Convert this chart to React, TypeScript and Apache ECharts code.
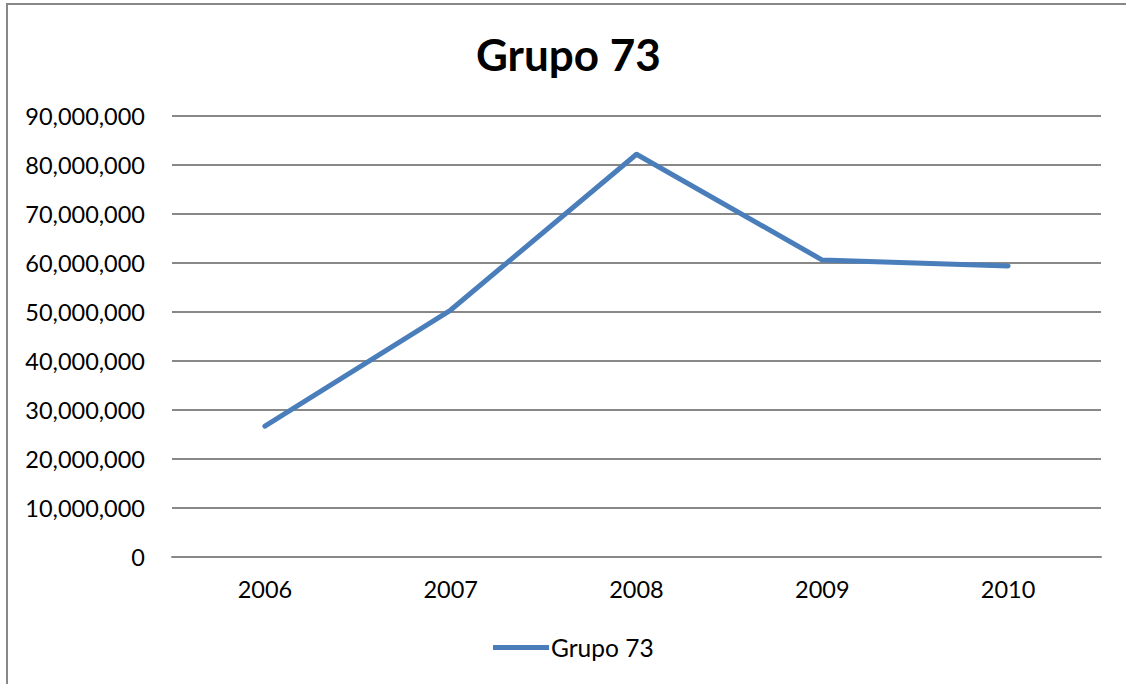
import React, { useEffect, useRef } from "react";
import * as echarts from "echarts";

const categories = ["2006", "2007", "2008", "2009", "2010"];
const values = [26700000, 50400000, 82200000, 60600000, 59400000];
const seriesName = "Grupo 73";
const titleText = "Grupo 73";

export default function App() {
  const ref = useRef<HTMLDivElement>(null);
  useEffect(() => {
    document.body.style.margin = "0";
    document.body.style.overflow = "hidden";
    const chart = echarts.init(ref.current!, null, { renderer: "svg" });
    const font = "Lato, 'Open Sans', sans-serif";
    chart.setOption({
      animation: false,
      backgroundColor: "#ffffff",
      title: {
        text: titleText,
        left: 476,
        top: 32,
        padding: 0,
        textStyle: { fontFamily: font, fontSize: 44, fontWeight: "bold", color: "#000" },
      },
      graphic: [
        {
          type: "polyline",
          shape: { points: [[7, 690], [7, 4], [1130, 4]] },
          style: { stroke: "#888", lineWidth: 2, fill: "none" },
          silent: true,
        },
      ],
      legend: {
        bottom: 24,
        left: 493,
        padding: 0,
        itemWidth: 56,
        itemHeight: 5,
        itemGap: 2,
        textStyle: { fontFamily: font, fontSize: 24.5, color: "#000", padding: [0, 0, 0, -3] },
        data: [{ name: seriesName, icon: "path://M0,0 L56,0 L56,5 L0,5 Z" }],
      },
      grid: { left: 172, right: 25, top: 116, bottom: 127, containLabel: false },
      xAxis: {
        type: "category",
        data: categories,
        boundaryGap: true,
        axisLine: { show: true, lineStyle: { color: "#888", width: 2 } },
        axisTick: { show: false },
        axisLabel: { fontFamily: font, fontSize: 23.5, color: "#000", margin: 20 },
      },
      yAxis: {
        type: "value",
        min: 0,
        max: 90000000,
        interval: 10000000,
        axisLine: { show: false },
        axisTick: { show: false },
        splitLine: { lineStyle: { color: "#888", width: 2 } },
        axisLabel: {
          fontFamily: font,
          fontSize: 23.5,
          color: "#000",
          margin: 27,
          formatter: (v: number) => v.toLocaleString("en-US"),
        },
      },
      series: [
        {
          name: seriesName,
          type: "line",
          data: values,
          symbol: "none",
          lineStyle: { color: "#4A7EBB", width: 5, cap: "round", join: "round" },
          itemStyle: { color: "#4A7EBB" },
        },
      ],
    });
    return () => chart.dispose();
  }, []);
  return <div ref={ref} style={{ width: 1126, height: 684 }} />;
}
